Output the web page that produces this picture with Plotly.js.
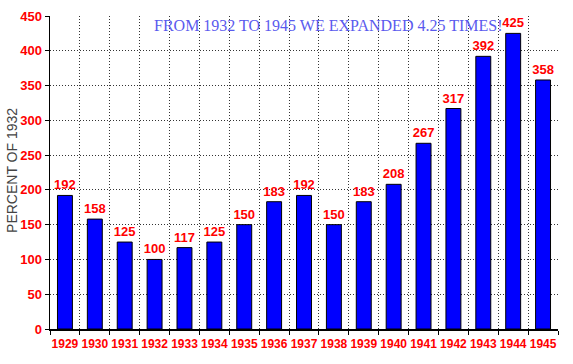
<!DOCTYPE html>
<html><head><meta charset="utf-8">
<script src="https://cdn.plot.ly/plotly-3.0.1.min.js"></script>
<style>html,body{margin:0;padding:0;background:#fff}#c{width:573px;height:364px}</style>
</head><body><div id="c"></div>
<script>
const years = ["1929","1930","1931","1932","1933","1934","1935","1936","1937","1938","1939","1940","1941","1942","1943","1944","1945"];
const percent = [192,158,125,100,117,125,150,183,192,150,183,208,267,317,392,425,358];
const yTicks = [0,50,100,150,200,250,300,350,400,450];
const headline = "FROM 1932 TO 1945 WE EXPANDED 4.25 TIMES!";
const yTitle = "PERCENT OF 1932";

const sans = "'Liberation Sans', Arial, sans-serif";
const redFont = {color: '#ff0000', size: 12, family: sans, weight: 'bold'};
Plotly.newPlot('c', [{
  type: 'bar', x: years, y: percent,
  marker: {color: '#0000ff', line: {color: '#000', width: 1}},
  text: percent.map(String), textposition: 'outside', cliponaxis: false,
  constraintext: 'none',
  textfont: {color: '#ff0000', size: 13, family: sans, weight: 'bold'},
  hoverinfo: 'none'
}], {
  width: 573, height: 364,
  margin: {l: 50, r: 15, t: 16, b: 35, pad: 0},
  paper_bgcolor: '#fff', plot_bgcolor: '#fff',
  bargap: 0.5, showlegend: false,
  xaxis: {
    type: 'category', range: [-0.5, 16.5], tickson: 'boundaries',
    tickangle: 0, ticklabelstandoff: 3,
    showline: true, linecolor: '#000', linewidth: 1.5,
    ticks: 'outside', ticklen: 4, tickcolor: '#000',
    showgrid: true, gridcolor: '#333', griddash: '1px,2px', gridwidth: 1,
    tickfont: redFont,
    fixedrange: true
  },
  yaxis: {
    range: [0, 450], tickvals: yTicks, ticktext: yTicks.map(String),
    showline: true, linecolor: '#000', linewidth: 1.5,
    ticks: 'outside', ticklen: 4, tickcolor: '#000',
    showgrid: true, gridcolor: '#333', griddash: '1px,2px', gridwidth: 1,
    zeroline: false,
    tickfont: {color: '#ff0000', size: 13, family: sans, weight: 'bold'},
    fixedrange: true
  },
  annotations: [{
    text: headline, xref: 'paper', yref: 'paper', x: 0.547, y: 0.97,
    xanchor: 'center', yanchor: 'middle', showarrow: false,
    font: {family: "'Liberation Serif', 'Times New Roman', serif", size: 16, color: '#5a5aee'}
  }, {
    text: yTitle, xref: 'paper', yref: 'paper', x: 0, y: 0.505, xshift: -38,
    xanchor: 'center', yanchor: 'middle', textangle: -90, showarrow: false,
    font: {family: sans, size: 14, color: '#444'}
  }]
}, {staticPlot: true});
</script></body></html>
